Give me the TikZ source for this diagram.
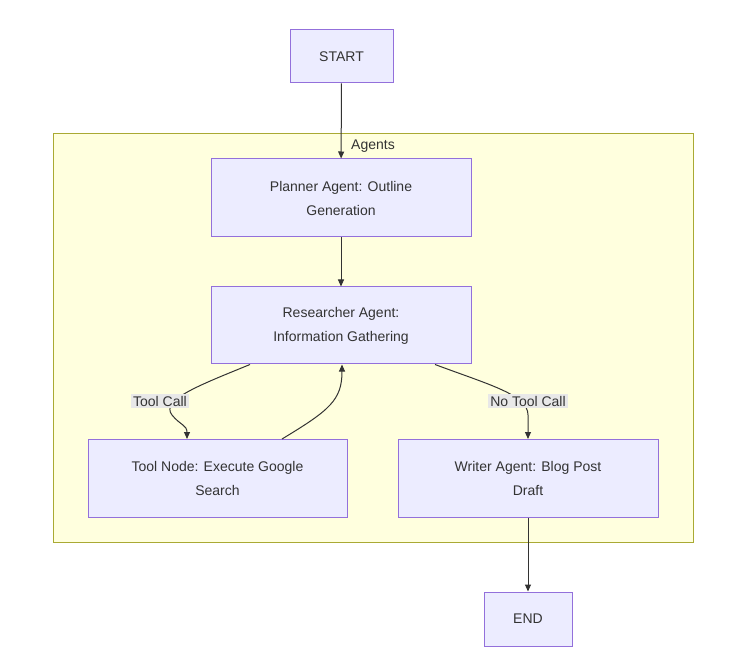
\documentclass[tikz,border=0pt]{standalone}
\usepackage{fontspec}
\setmainfont{Liberation Sans}
\usetikzlibrary{arrows.meta}
\definecolor{nfill}{HTML}{ECECFF}
\definecolor{nline}{HTML}{9370DB}
\definecolor{cfill}{HTML}{FFFFDE}
\definecolor{cline}{HTML}{AAAA33}
\definecolor{eline}{HTML}{333333}
\definecolor{lbg}{HTML}{E8E8E8}
\begin{document}
\begin{tikzpicture}[x=1pt,y=-1pt,
  box/.style={draw=nline,fill=nfill,line width=1pt,inner sep=0pt,align=center,font=\fontsize{14}{24}\selectfont,text=eline},
  edge/.style={draw=eline,line width=1pt,-{Triangle[length=7pt,width=6pt]}},
  lab/.style={fill=lbg,inner sep=2pt,font=\fontsize{14}{16}\selectfont,text=eline}]
\useasboundingbox (0,0) rectangle (737,663);
\fill[white] (0,0) rectangle (737,663);
\draw[draw=cline,fill=cfill,line width=1pt] (53,134) rectangle (693,542);
\node[font=\fontsize{14}{16}\selectfont,text=eline] (ag) at (373,146) {Agents};
\node[box,minimum width=103pt,minimum height=53pt] (start) at (341.5,56.5) {START};
\node[box,minimum width=260pt,minimum height=78pt] (plan) at (341,198) {Planner Agent: Outline\\Generation};
\node[box,minimum width=260pt,minimum height=77pt] (res) at (341,325.5) {Researcher Agent:\\Information Gathering};
\node[box,minimum width=259pt,minimum height=78pt] (tool) at (217.5,478) {Tool Node: Execute Google\\Search};
\node[box,minimum width=260pt,minimum height=78pt] (wri) at (528,478) {Writer Agent: Blog Post\\Draft};
\node[box,minimum width=88pt,minimum height=54pt] (end) at (528,619) {END};
\coordinate (r1) at (250,364.5);
\coordinate (t1) at (187,439);
\coordinate (t2) at (282,439);
\coordinate (r2) at (342,364.5);
\coordinate (r3) at (435,364.5);
\coordinate (w1) at (528,439);
\draw[edge] (start) -- (plan);
\draw[edge] (plan) -- (res);
\draw[edge] (r1) .. controls (200,385) and (160,400) .. (172,415) .. controls (180,425) and (187,425) .. (t1);
\draw[edge] (t2) .. controls (330,410) and (342,400) .. (r2);
\draw[edge] (r3) .. controls (490,385) and (528,395) .. (528,415) -- (w1);
\draw[edge] (wri) -- (end);
\node[lab] (l1) at (160,401) {Tool Call};
\node[lab] (l2) at (528,401) {No Tool Call};
\end{tikzpicture}
\end{document}
